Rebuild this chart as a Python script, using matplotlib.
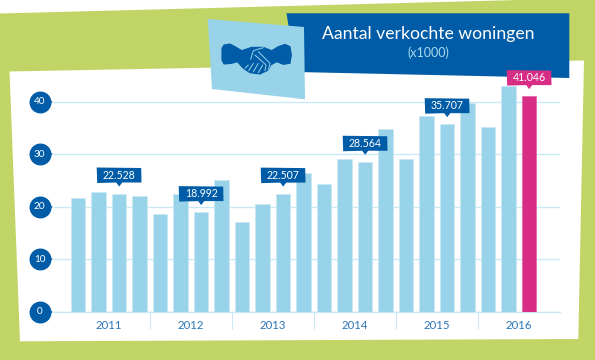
import matplotlib
matplotlib.use('Agg')
import matplotlib.pyplot as plt
from matplotlib.patches import Polygon
from matplotlib.transforms import IdentityTransform

plt.rcParams['font.family'] = ['Lato', 'DejaVu Sans']

# data
values = [21.6, 22.9, 22.528, 22.0, 18.7, 22.5, 18.992, 25.1, 17.2, 20.6, 22.507, 26.5,
          24.3, 29.1, 28.564, 34.8, 29.1, 37.3, 35.707, 39.7, 35.1, 43.0, 41.046]
years = ['2011', '2012', '2013', '2014', '2015', '2016']
year_centers = [1.5, 5.5, 9.5, 13.5, 17.5, 21.5]
year_seps = [3.5, 7.5, 11.5, 15.5, 19.5]
y_ticks = [0, 10, 20, 30, 40]
callout_idx = [2, 6, 10, 14, 18, 22]
callout_labels = ['22.528', '18.992', '22.507', '28.564', '35.707', '41.046']

GREEN = '#c1d566'
BLUE = '#005ca6'
LIGHT = '#98d3e9'
GRID = '#c9e9f5'
PINK = '#d82d85'

W, H = 595, 360
fig = plt.figure(figsize=(W / 100, H / 100), dpi=100, facecolor='white')

# background shapes, in pixels
bg = fig.add_axes([0, 0, 1, 1])
bg.set_xlim(0, W)
bg.set_ylim(H, 0)
bg.axis('off')
bg.add_patch(Polygon([(0, 13.5), (595, -2), (595, 360), (0, 360)], fc=GREEN, ec='none'))
bg.add_patch(Polygon([(9.5, 71.5), (584, 60.5), (578.3, 339), (20, 341.3)], fc='white', ec='none'))
bg.add_patch(Polygon([(286.5, 13.3), (569.3, 13.3), (569.3, 78), (296, 72)], fc=BLUE, ec='none'))
bg.add_patch(Polygon([(207.7, 19), (304, 27), (305, 99.3), (212, 89)], fc=LIGHT, ec='none'))

# handshake icon
hand = [(666, 145), (672, 135), (690, 132), (705, 140), (725, 152), (755, 142), (790, 142), (815, 152),
        (835, 140), (855, 133), (870, 140), (874, 165), (870, 190), (850, 193), (830, 185), (812, 195),
        (805, 210), (780, 222), (750, 218), (730, 205), (712, 185), (695, 190), (672, 192), (666, 180)]
bg.add_patch(Polygon([(a / 3, b / 3) for a, b in hand], fc=BLUE, ec=BLUE, lw=0.8, joinstyle='round'))
strokes = [[(752, 178), (760, 152), (790, 143)], [(775, 155), (810, 190), (805, 210)],
           [(765, 165), (798, 195), (795, 212)], [(735, 205), (745, 195)], [(746, 212), (760, 190)],
           [(760, 215), (775, 190)], [(775, 218), (788, 195)]]
for s in strokes:
    bg.plot([p[0] / 3 for p in s], [p[1] / 3 for p in s], color=LIGHT, lw=0.7, solid_capstyle='round')

bg.text(428, 34.5, 'Aantal verkochte woningen', color='white', fontsize=12.7, ha='center', va='center')
bg.text(428, 53, '(x1000)', color='#a9dbee', fontsize=9, ha='center', va='center')

# chart axes: 20.5 px per bar, 5.26 px per unit
left, right, top, bottom = 54, 560, 60, 312
ax = fig.add_axes([left / W, 1 - bottom / H, (right - left) / W, (bottom - top) / H])
ax.patch.set_alpha(0)
ax.set_xlim((left - 78.2) / 20.5, (right - 78.2) / 20.5)
ax.set_ylim(0, (bottom - top) / 5.26)

colors = [LIGHT] * (len(values) - 1) + [PINK]
edges = [GRID] * (len(values) - 1) + ['#e56aa8']
ax.bar(range(len(values)), values, width=0.71, color=colors, edgecolor=edges, linewidth=0.6, zorder=3)

for side in ['top', 'left', 'right']:
    ax.spines[side].set_visible(False)
ax.spines['bottom'].set_color(GRID)
ax.spines['bottom'].set_linewidth(1)
ax.set_yticks(y_ticks)
ax.tick_params(axis='y', length=0, labelleft=False)
ax.grid(axis='y', color=GRID, lw=1, zorder=0)
ax.set_xticks(year_seps)
ax.set_xticklabels([])
ax.tick_params(axis='x', which='major', length=12, width=0.8, color=GRID)
ax.set_xticks(year_centers, minor=True)
ax.set_xticklabels(years, minor=True, fontsize=8.2, color='#2a75b5')
ax.tick_params(axis='x', which='minor', length=0, pad=6)

# y tick badges
ytrans = ax.get_yaxis_transform()
for v in y_ticks:
    ax.plot([-14.5 / (right - left)], [v], marker='o', ms=15.8, color=BLUE, mew=0,
            transform=ytrans, clip_on=False, zorder=5)
    ax.plot([-5.5 / (right - left)], [v], marker='>', ms=6, color=BLUE, mew=0,
            transform=ytrans, clip_on=False, zorder=5)
    ax.text(-14.5 / (right - left), v, str(v), color='white', fontsize=7.2, ha='center', va='center',
            transform=ytrans, clip_on=False, zorder=6)

# value callouts, offsets in pixels from the top of the bar
fig.canvas.draw()
for i, lab in zip(callout_idx, callout_labels):
    x, y = ax.transData.transform((i, values[i]))
    c = PINK if i == len(values) - 1 else BLUE
    tip = y + 7
    y0 = tip + 4
    y1 = y0 + 14.5
    pts = [(x - 22.5, y1 + 0.5), (x + 22, y1), (x + 22.3, y0), (x + 3, y0), (x, tip), (x - 3, y0), (x - 22, y0 - 0.5)]
    ax.add_patch(Polygon(pts, fc=c, ec='none', transform=IdentityTransform(), zorder=7, clip_on=False))
    ax.text(x, (y0 + y1) / 2, lab, color='white', fontsize=7.6, ha='center', va='center',
            transform=IdentityTransform(), zorder=8, clip_on=False)

fig.savefig('out.png', dpi=100)
